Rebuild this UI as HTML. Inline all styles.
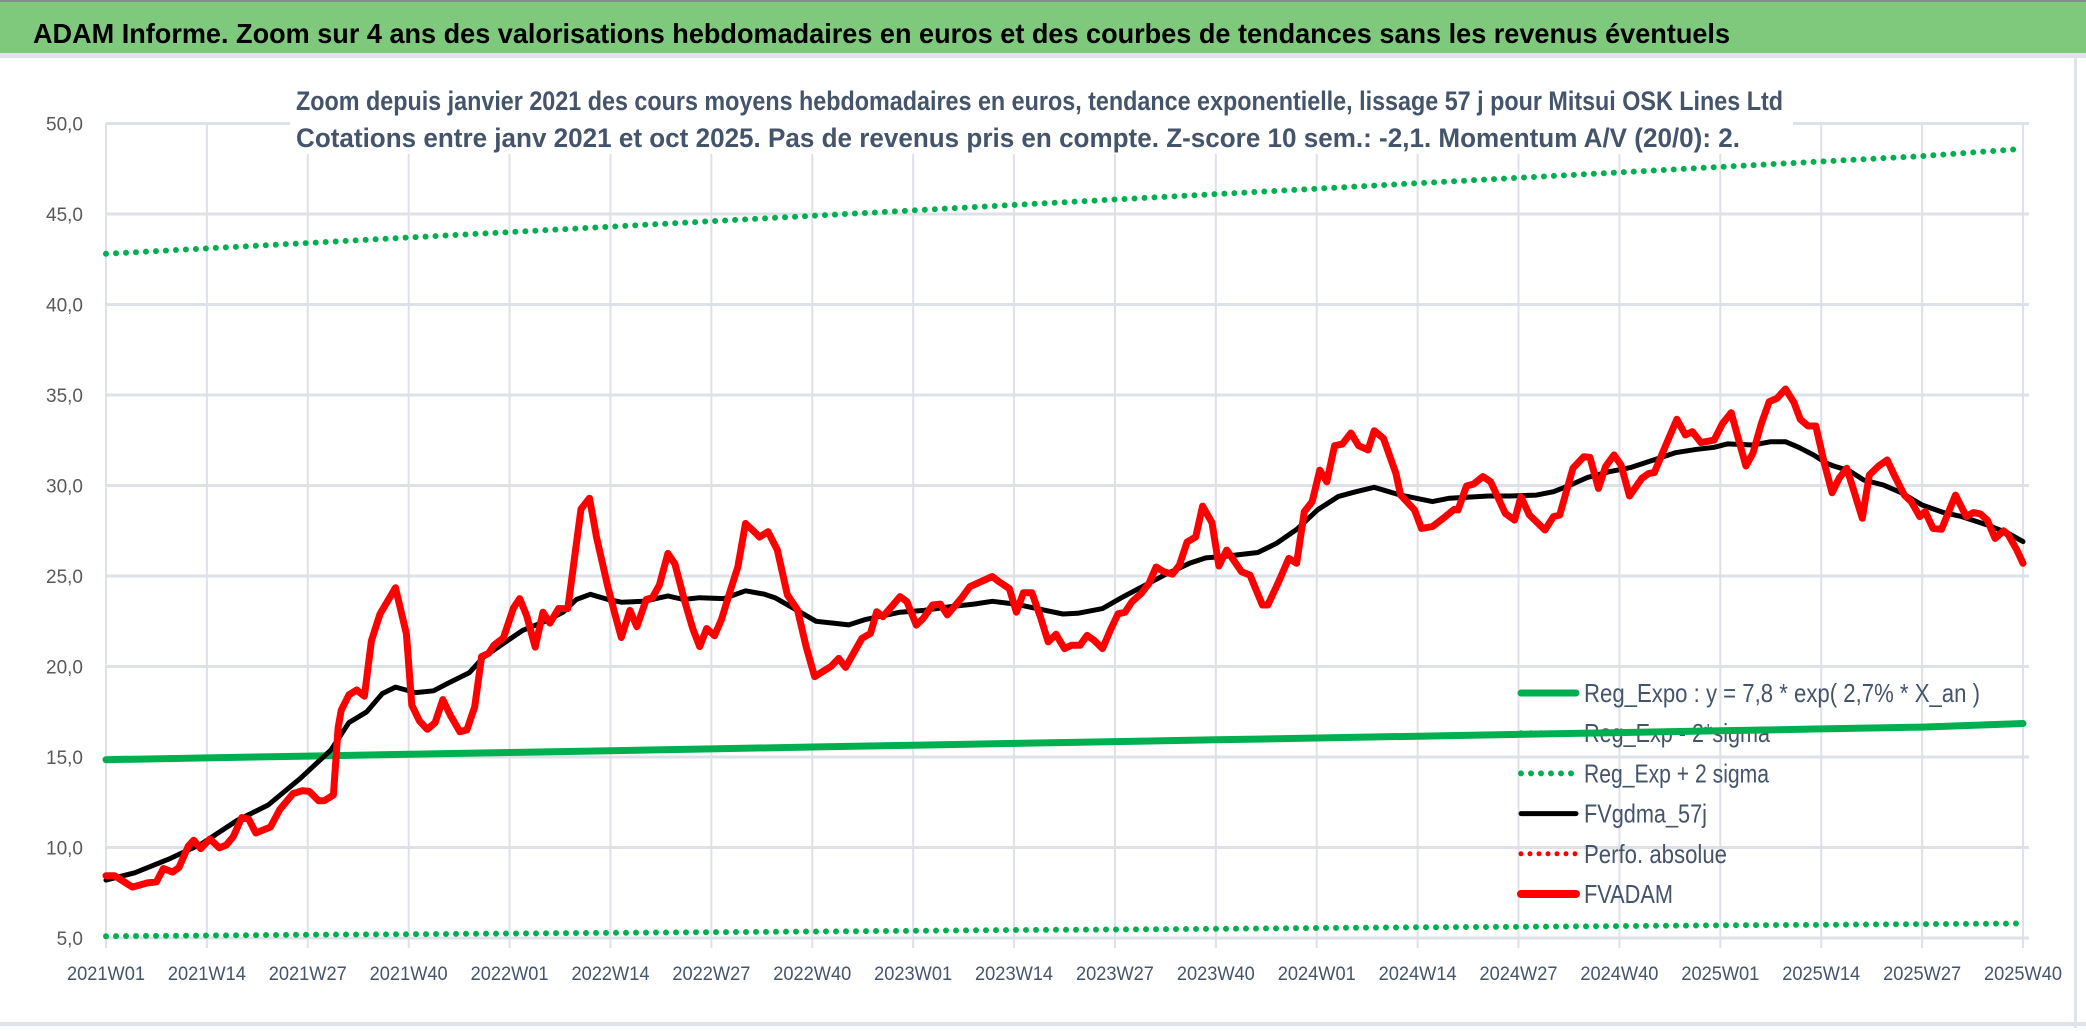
<!DOCTYPE html>
<html><head><meta charset="utf-8"><style>
html,body{margin:0;padding:0;background:#fff;}
svg{display:block;}
text{font-family:"Liberation Sans Narrow","Liberation Sans",sans-serif;}
</style></head><body>
<svg id="chart" width="2086" height="1031" viewBox="0 0 2086 1031" xmlns="http://www.w3.org/2000/svg">
<rect x="0" y="0" width="2086" height="1031" fill="#fff"/>
<rect x="0" y="0" width="2086" height="53" fill="#7fc97d"/>
<rect x="0" y="0" width="2086" height="2" fill="#8a8a8a"/>
<rect x="0" y="53" width="2086" height="5" fill="#dfe2e8"/>
<rect x="0" y="1022" width="2086" height="4" fill="#dfe2e8"/>
<rect x="2074" y="58" width="3" height="970" fill="#e0e3e8"/>
<text x="33" y="43" font-size="28" font-weight="bold" fill="#000" textLength="1697" lengthAdjust="spacingAndGlyphs">ADAM Informe. Zoom sur 4 ans des valorisations hebdomadaires en euros et des courbes de tendances sans les revenus éventuels</text>
<g id="grid"></g>
<rect x="290" y="72" width="1503" height="82" fill="#fff"/>
<text x="296" y="110" font-size="27" font-weight="bold" fill="#44546a" textLength="1487" lengthAdjust="spacingAndGlyphs">Zoom depuis janvier 2021 des cours moyens hebdomadaires en euros, tendance exponentielle, lissage 57 j pour Mitsui OSK Lines Ltd</text>
<text x="296" y="147" font-size="27" font-weight="bold" fill="#44546a" textLength="1444" lengthAdjust="spacingAndGlyphs">Cotations entre janv 2021 et oct 2025. Pas de revenus pris en compte. Z-score 10 sem.: -2,1. Momentum A/V (20/0): 2.</text>
<g id="axes"></g>
<g id="legend"></g>
<g id="series"></g>
</svg>
<script>
const xTickLabels = ["2021W01","2021W14","2021W27","2021W40","2022W01","2022W14","2022W27","2022W40","2023W01","2023W14","2023W27","2023W40","2024W01","2024W14","2024W27","2024W40","2025W01","2025W14","2025W27","2025W40"];
const yTickValues = [5,10,15,20,25,30,35,40,45,50];
const yTickLabels = ["5,0","10,0","15,0","20,0","25,0","30,0","35,0","40,0","45,0","50,0"];
const bandWeeks = [0,13,26,39,52,65,78,91,104,117,130,143,156,169,182,195,208,221,234,247];
const regExpo = [14.85,14.95,15.05,15.15,15.25,15.35,15.45,15.55,15.65,15.75,15.85,15.95,16.05,16.15,16.25,16.35,16.45,16.55,16.65,16.85];
const regMinus2Sigma = [5.10,5.14,5.18,5.21,5.25,5.29,5.32,5.36,5.40,5.44,5.47,5.51,5.55,5.59,5.62,5.66,5.70,5.73,5.77,5.80];
const regPlus2Sigma = [42.8,43.1,43.4,43.7,44.0,44.3,44.6,44.9,45.2,45.5,45.8,46.1,46.4,46.7,47.0,47.3,47.6,47.9,48.2,48.6];
const fvWeeks = [0,1.1,3.4,5.4,6.5,7.4,8.6,9.4,10.6,11.3,12.2,13.4,14.6,15.5,16.4,17.5,18.4,19.3,21.2,22.4,24.1,25.3,26.2,27.4,28.1,29.3,29.9,30.3,31.3,32.3,33.3,34.2,35.3,37.3,38.7,39.4,40.4,41.4,42.4,43.4,44.4,45.6,46.5,47.5,48.4,49.3,50.0,51.2,52.5,53.3,54.2,55.3,56.3,57.2,58.3,59.5,61.2,62.3,63.2,64.6,65.5,66.4,67.5,68.4,69.6,70.4,71.3,72.4,73.3,74.5,75.6,76.5,77.4,78.4,79.3,80.3,81.4,82.4,83.4,84.2,85.3,86.5,87.8,89.1,90.2,91.3,93.4,94.4,95.3,97.4,98.5,99.3,100.1,101.2,102.3,103.2,104.4,105.3,106.5,107.5,108.4,110.2,111.3,114.2,115.0,116.4,117.3,118.2,119.3,120.4,121.4,122.4,123.5,124.4,125.5,126.4,127.3,128.4,129.4,130.4,131.3,132.2,133.4,134.4,135.3,136.3,137.4,138.3,139.3,140.4,141.3,142.5,143.4,144.4,146.3,147.4,149.0,149.7,151.1,152.4,153.4,154.4,155.4,156.4,157.3,158.3,159.3,160.4,161.4,162.6,163.4,164.6,166.2,166.8,168.6,169.5,170.9,172.3,173.7,174.2,175.3,176.2,177.4,178.4,180.3,181.5,182.3,183.4,185.4,186.5,187.3,189.0,190.4,191.2,192.3,193.2,194.3,195.2,196.3,197.9,198.8,199.5,200.9,202.4,203.5,204.4,205.5,207.2,208.3,209.4,211.3,212.2,213.3,214.3,215.3,216.4,217.5,218.3,219.3,220.3,221.4,222.4,223.3,224.3,225.3,226.3,227.2,228.4,229.5,230.3,231.7,232.6,233.7,234.4,235.4,236.5,238.3,239.7,240.6,241.5,242.4,243.4,244.5,245.1,246.2,247];
const fvadam = [8.44,8.44,7.81,8.05,8.1,8.84,8.64,8.9,10.08,10.4,9.94,10.47,9.98,10.14,10.6,11.66,11.56,10.8,11.13,12.1,12.98,13.14,13.1,12.58,12.58,12.9,16.6,17.58,18.43,18.7,18.36,21.42,22.9,24.35,21.8,17.87,16.99,16.53,16.9,18.17,17.28,16.4,16.5,17.77,20.54,20.73,21.19,21.58,23.24,23.75,22.8,21.07,23.0,22.4,23.2,23.2,28.7,29.3,27.15,24.5,23.0,21.6,23.1,22.2,23.7,23.8,24.5,26.25,25.67,23.7,22.1,21.1,22.1,21.7,22.6,24.0,25.5,27.9,27.5,27.15,27.45,26.44,23.95,23.13,21.1,19.44,20.0,20.45,19.95,21.55,21.83,23.03,22.75,23.3,23.86,23.58,22.29,22.66,23.4,23.45,22.85,23.77,24.41,24.97,24.7,24.3,23.0,24.07,24.07,22.74,21.36,21.78,20.99,21.17,21.17,21.72,21.45,20.99,22.0,22.91,23.0,23.58,24.04,24.6,25.5,25.24,25.1,25.6,26.88,27.16,28.86,27.94,25.55,26.43,25.24,25.05,23.4,23.4,24.69,25.97,25.7,28.55,29.1,30.85,30.2,32.2,32.29,32.9,32.2,31.96,33.03,32.6,30.67,29.47,28.65,27.63,27.73,28.19,28.68,28.65,29.97,30.08,30.49,30.21,28.46,28.09,29.38,28.37,27.54,28.28,28.37,30.95,31.59,31.56,29.84,31.04,31.69,31.13,29.42,30.4,30.67,30.71,32.15,33.66,32.79,32.97,32.37,32.51,33.43,34.02,31.08,31.78,33.43,34.63,34.82,35.33,34.58,33.66,33.29,33.29,31.23,29.6,30.4,30.95,29.57,28.19,30.58,31.08,31.41,30.67,29.47,29.11,28.28,28.56,27.63,27.58,29.47,28.28,28.5,28.43,28.09,27.08,27.5,27.27,26.44,25.7];
const maWeeks = [0,3.7,8.3,12.3,16.9,20.9,25,29,31.3,33.6,35.6,37.3,39.9,42.2,44,46.8,48.6,51.4,53.7,56.6,58.9,60.6,62.4,64.7,66.4,69.3,72.4,74.4,76.5,79.6,82.4,84.8,86.2,88.9,91.5,93.7,95.7,97.9,100.1,102.3,105.4,108.6,111.8,114.2,117.2,120.4,123.3,125.2,128.4,131.1,133.7,136.4,139.6,141.7,144.4,148.4,150.8,153.5,156.1,158.8,161.0,163.4,166.8,170.9,173.1,178.1,180.9,184.3,186.5,188.7,190.9,193.7,196.5,199.4,202.2,205.0,207.2,208.9,212.2,214.5,216.4,218.1,220.0,221.7,222.6,224.6,226.5,229.0,231.3,234.0,236.8,239.1,242.4,245.1,247];
const fvgdma57 = [8.2,8.6,9.4,10.2,11.5,12.35,13.8,15.4,16.9,17.5,18.5,18.86,18.56,18.66,19.06,19.65,20.5,21.33,22.0,22.5,23.0,23.7,23.99,23.7,23.55,23.6,23.9,23.7,23.8,23.75,24.18,24.0,23.8,23.14,22.5,22.4,22.3,22.6,22.8,23.0,23.1,23.3,23.45,23.6,23.45,23.16,22.9,22.94,23.2,23.86,24.45,25.06,25.7,26.0,26.1,26.3,26.8,27.6,28.65,29.4,29.65,29.9,29.47,29.11,29.3,29.42,29.42,29.47,29.66,30.03,30.45,30.76,31.0,31.41,31.81,32.0,32.11,32.3,32.24,32.42,32.42,32.11,31.69,31.23,31.08,30.82,30.3,30.03,29.6,28.92,28.5,28.28,27.82,27.36,26.9];
const legendLabels = ["Reg_Expo : y = 7,8 * exp( 2,7% *  X_an )","Reg_Exp - 2*sigma","Reg_Exp + 2 sigma","FVgdma_57j","Perfo. absolue","FVADAM"];

const NS = "http://www.w3.org/2000/svg";
const X0 = 106, X1 = 2023, WMAX = 247;
const Y5 = 938, PER = 18.1;
function xs(w){ return X0 + (X1 - X0) * w / WMAX; }
function ys(v){ return Y5 - (v - 5) * PER; }
function mk(tag, attrs, parent){
  const e = document.createElementNS(NS, tag);
  for (const k in attrs) e.setAttribute(k, attrs[k]);
  parent.appendChild(e);
  return e;
}
function pathD(wk, vals){
  return wk.map((w,i)=>(i?"L":"M")+xs(w).toFixed(1)+" "+ys(vals[i]).toFixed(1)).join(" ");
}
const grid = document.getElementById("grid");
const axes = document.getElementById("axes");
const legend = document.getElementById("legend");
const series = document.getElementById("series");

yTickValues.forEach((v,i)=>{
  const l = mk("line",{x1:X0,x2:X1+6,y1:ys(v),y2:ys(v),stroke:"#dde1e8","stroke-width":3},grid);
  
  
  const t = mk("text",{x:83,y:ys(v)+7,"font-size":19,fill:"#595959","text-anchor":"end"},axes);
  t.textContent = yTickLabels[i];
  
  
});
xTickLabels.forEach((lab,i)=>{
  const w = i*13;
  const l = mk("line",{x1:xs(w),x2:xs(w),y1:ys(50),y2:948,stroke:"#dde1e8","stroke-width":2},grid);
  
  
  const t = mk("text",{x:xs(w),y:980,"font-size":19,fill:"#44546a","text-anchor":"middle",textLength:78,lengthAdjust:"spacingAndGlyphs"},axes);
  t.textContent = lab;
  
  
});

// legend
const legStyles = [
  {stroke:"#00b050",w:7,dash:null},
  {stroke:"#00b050",w:6,dash:"0 10"},
  {stroke:"#00b050",w:6,dash:"0 10"},
  {stroke:"#000",w:5,dash:null},
  {stroke:"#ff0000",w:5,dash:"0 9"},
  {stroke:"#ff0000",w:8,dash:null}
];
const legWidths = [396,186,185,123,143,89];
legendLabels.forEach((lab,i)=>{
  const cy = 693 + i*40.2;
  const s = legStyles[i];
  const a = {x1:1521,x2:1576,y1:cy,y2:cy,stroke:s.stroke,"stroke-width":s.w,"stroke-linecap":"round"};
  if (s.dash) a["stroke-dasharray"] = s.dash;
  const l = mk("line",a,legend);
  
  
  const t = mk("text",{x:1584,y:cy+9,"font-size":26,fill:"#44546a",textLength:legWidths[i],lengthAdjust:"spacingAndGlyphs"},legend);
  t.textContent = lab;
  
  
});

// series
const pLow = mk("path",{d:pathD(bandWeeks,regMinus2Sigma),fill:"none",stroke:"#00b050","stroke-width":6,"stroke-dasharray":"0 10","stroke-linecap":"round"},series);


const pHigh = mk("path",{d:pathD(bandWeeks,regPlus2Sigma),fill:"none",stroke:"#00b050","stroke-width":6,"stroke-dasharray":"0 10","stroke-linecap":"round"},series);


const pReg = mk("path",{d:pathD(bandWeeks,regExpo),fill:"none",stroke:"#00b050","stroke-width":7,"stroke-linecap":"round"},series);


const pMa = mk("path",{d:pathD(maWeeks,fvgdma57),fill:"none",stroke:"#000","stroke-width":5,"stroke-linejoin":"round","stroke-linecap":"round"},series);


const pFv = mk("path",{d:pathD(fvWeeks,fvadam),fill:"none",stroke:"#ff0000","stroke-width":7,"stroke-linejoin":"round","stroke-linecap":"round"},series);


</script>
</body></html>
